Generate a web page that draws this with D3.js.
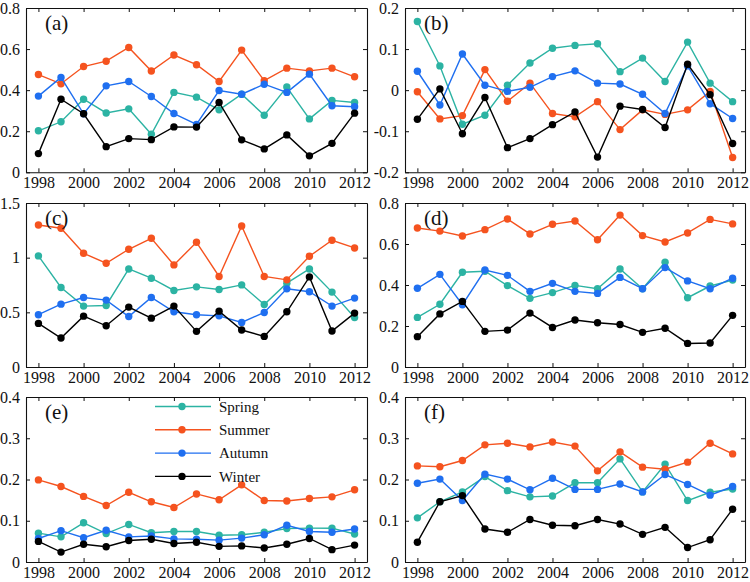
<!DOCTYPE html>
<html>
<head>
<meta charset="utf-8">
<script src="https://cdn.jsdelivr.net/npm/d3@7"></script>
<style>
  html, body { margin: 0; padding: 0; background: #fff; }
  svg { display: block; }
</style>
</head>
<body>
<svg id="chart" width="750" height="582"></svg>
<script>
// ---------------- data ----------------
const years = [1998, 1999, 2000, 2001, 2002, 2003, 2004, 2005, 2006, 2007, 2008, 2009, 2010, 2011, 2012];
const xTicks = [1998, 2000, 2002, 2004, 2006, 2008, 2010, 2012];
const seasons = ["Spring", "Summer", "Autumn", "Winter"];
const panelLabels = ["(a)", "(b)", "(c)", "(d)", "(e)", "(f)"];

const yTicksA = [0, 0.2, 0.4, 0.6, 0.8];
const yTicksB = [-0.2, -0.1, 0, 0.1, 0.2];
const yTicksC = [0, 0.5, 1, 1.5];
const yTicksD = [0, 0.2, 0.4, 0.6, 0.8];
const yTicksE = [0, 0.1, 0.2, 0.3, 0.4];
const yTicksF = [0, 0.1, 0.2, 0.3, 0.4];

// (a)
const springA = [0.202, 0.246, 0.356, 0.289, 0.309, 0.185, 0.389, 0.366, 0.304, 0.380, 0.278, 0.415, 0.260, 0.350, 0.340];
const summerA = [0.476, 0.431, 0.515, 0.541, 0.608, 0.493, 0.571, 0.524, 0.442, 0.595, 0.446, 0.507, 0.494, 0.507, 0.465];
const autumnA = [0.371, 0.462, 0.285, 0.421, 0.442, 0.369, 0.286, 0.233, 0.398, 0.380, 0.429, 0.389, 0.478, 0.324, 0.319];
const winterA = [0.091, 0.356, 0.285, 0.125, 0.164, 0.159, 0.221, 0.220, 0.340, 0.158, 0.114, 0.182, 0.080, 0.141, 0.288];
// (b)
const springB = [0.167, 0.059, -0.083, -0.061, 0.012, 0.066, 0.102, 0.109, 0.113, 0.045, 0.078, 0.021, 0.117, 0.017, -0.028];
const summerB = [-0.004, -0.070, -0.062, 0.050, -0.027, 0.017, -0.057, -0.065, -0.028, -0.096, -0.048, -0.059, -0.048, -0.003, -0.164];
const autumnB = [0.046, -0.036, 0.088, 0.012, -0.003, 0.007, 0.033, 0.047, 0.017, 0.015, -0.010, -0.057, 0.059, -0.033, -0.069];
const winterB = [-0.071, 0.003, -0.106, -0.018, -0.140, -0.118, -0.084, -0.053, -0.163, -0.039, -0.047, -0.091, 0.063, -0.011, -0.130];
// (c)
const springC = [1.016, 0.727, 0.557, 0.563, 0.897, 0.812, 0.700, 0.733, 0.709, 0.751, 0.572, 0.767, 0.897, 0.685, 0.453];
const summerC = [1.299, 1.269, 1.040, 0.949, 1.077, 1.177, 0.934, 1.141, 0.828, 1.290, 0.828, 0.797, 1.013, 1.159, 1.089];
const autumnC = [0.478, 0.575, 0.636, 0.612, 0.462, 0.636, 0.505, 0.478, 0.468, 0.408, 0.499, 0.715, 0.688, 0.557, 0.630];
const winterC = [0.399, 0.265, 0.465, 0.377, 0.548, 0.447, 0.557, 0.326, 0.511, 0.338, 0.280, 0.505, 0.824, 0.329, 0.493];
// (d)
const springD = [0.242, 0.306, 0.462, 0.467, 0.397, 0.335, 0.363, 0.398, 0.382, 0.478, 0.382, 0.511, 0.338, 0.395, 0.424];
const summerD = [0.678, 0.663, 0.639, 0.670, 0.722, 0.649, 0.696, 0.712, 0.621, 0.741, 0.641, 0.610, 0.654, 0.720, 0.698];
const autumnD = [0.384, 0.452, 0.304, 0.473, 0.447, 0.369, 0.408, 0.369, 0.359, 0.437, 0.382, 0.485, 0.420, 0.382, 0.433];
const winterD = [0.148, 0.259, 0.320, 0.174, 0.180, 0.263, 0.193, 0.229, 0.216, 0.207, 0.169, 0.189, 0.115, 0.117, 0.252];
// (e)
const springE = [0.070, 0.061, 0.095, 0.069, 0.091, 0.071, 0.074, 0.074, 0.065, 0.066, 0.072, 0.081, 0.082, 0.082, 0.068];
const summerE = [0.199, 0.183, 0.159, 0.137, 0.169, 0.146, 0.132, 0.165, 0.151, 0.187, 0.149, 0.148, 0.154, 0.158, 0.175];
const autumnE = [0.057, 0.076, 0.059, 0.077, 0.061, 0.063, 0.056, 0.055, 0.053, 0.058, 0.066, 0.089, 0.074, 0.072, 0.080];
const winterE = [0.050, 0.024, 0.043, 0.037, 0.052, 0.055, 0.045, 0.048, 0.038, 0.039, 0.034, 0.043, 0.057, 0.030, 0.041];
// (f)
const springF = [0.107, 0.146, 0.170, 0.207, 0.173, 0.158, 0.160, 0.192, 0.192, 0.250, 0.170, 0.237, 0.149, 0.169, 0.177];
const summerF = [0.233, 0.231, 0.246, 0.284, 0.288, 0.279, 0.291, 0.281, 0.221, 0.267, 0.230, 0.225, 0.242, 0.288, 0.262];
const autumnF = [0.191, 0.201, 0.149, 0.213, 0.201, 0.175, 0.203, 0.176, 0.176, 0.189, 0.170, 0.212, 0.188, 0.162, 0.183];
const winterF = [0.048, 0.146, 0.161, 0.080, 0.072, 0.103, 0.089, 0.088, 0.103, 0.092, 0.067, 0.084, 0.035, 0.054, 0.128];

const panelSeries = [
  [springA, summerA, autumnA, winterA],
  [springB, summerB, autumnB, winterB],
  [springC, summerC, autumnC, winterC],
  [springD, summerD, autumnD, winterD],
  [springE, summerE, autumnE, winterE],
  [springF, summerF, autumnF, winterF]
];
const panelTicks = [yTicksA, yTicksB, yTicksC, yTicksD, yTicksE, yTicksF];

// ---------------- styles / layout ----------------
const colors = ["#2cb3a3", "#f5531f", "#1f6ff0", "#000000"];
const cols = [{ left: 26, right: 367 }, { left: 405, right: 745 }];
const rows = [{ top: 8, bottom: 172.3 }, { top: 203, bottom: 367 }, { top: 397, bottom: 562 }];
const legendPanel = 4;
const FONT = "Liberation Serif, Times New Roman, serif";

const svg = d3.select("#chart");
const fmt = v => d3.format("~g")(v).replace("\u2212", "-");

panelSeries.forEach((series, i) => {
  const c = cols[i % 2], r = rows[Math.floor(i / 2)];
  const ticks = panelTicks[i];
  const x = d3.scaleLinear().domain([1997.45, 2012.55]).range([c.left, c.right]);
  const y = d3.scaleLinear().domain([ticks[0], ticks[ticks.length - 1]]).range([r.bottom, r.top]);
  const g = svg.append("g");

  // axes (inner ticks on all four sides)
  const styleAxis = sel => {
    sel.attr("font-family", FONT).attr("font-size", 16);
    sel.selectAll("path.domain").attr("stroke", "#111").attr("stroke-width", 1.1);
    sel.selectAll(".tick line").attr("stroke", "#111").attr("stroke-width", 1);
    sel.selectAll(".tick text").attr("fill", "#111");
  };
  g.append("g").attr("transform", `translate(0,${r.bottom})`)
    .call(d3.axisBottom(x).tickValues(xTicks).tickFormat(d3.format("d")).tickSize(-4).tickSizeOuter(0).tickPadding(4.5))
    .call(styleAxis);
  g.append("g").attr("transform", `translate(0,${r.top})`)
    .call(d3.axisTop(x).tickValues(xTicks).tickFormat("").tickSize(-4).tickSizeOuter(0))
    .call(styleAxis);
  g.append("g").attr("transform", `translate(${c.left},0)`)
    .call(d3.axisLeft(y).tickValues(ticks).tickFormat(fmt).tickSize(-4).tickSizeOuter(0).tickPadding(6))
    .call(styleAxis);
  g.append("g").attr("transform", `translate(${c.right},0)`)
    .call(d3.axisRight(y).tickValues(ticks).tickFormat("").tickSize(-4).tickSizeOuter(0))
    .call(styleAxis);

  // series
  const line = d3.line().x((d, k) => x(years[k])).y(d => y(d));
  series.forEach((vals, s) => {
    const sg = g.append("g");
    sg.append("path").datum(vals).attr("d", line)
      .attr("fill", "none").attr("stroke", colors[s]).attr("stroke-width", 1.4);
    sg.selectAll("circle").data(vals).join("circle")
      .attr("cx", (d, k) => x(years[k])).attr("cy", d => y(d)).attr("r", 3.7)
      .attr("fill", colors[s]);
  });

  // panel label
  g.append("text").attr("x", c.left + 19).attr("y", r.top + 22)
    .attr("font-family", FONT).attr("font-size", 21).attr("fill", "#111")
    .text(panelLabels[i]);

  // legend
  if (i === legendPanel) {
    const lg = g.append("g").attr("transform", `translate(${c.left + 129},${r.top + 9.5})`);
    seasons.forEach((name, s) => {
      const row = lg.append("g").attr("transform", `translate(0,${s * 23.3})`);
      row.append("line").attr("x1", 0).attr("x2", 56).attr("y1", 0).attr("y2", 0)
        .attr("stroke", colors[s]).attr("stroke-width", 1.4);
      row.append("circle").attr("cx", 27).attr("cy", 0).attr("r", 3.7).attr("fill", colors[s]);
      row.append("text").attr("x", 64).attr("y", 0).attr("dy", "0.35em")
        .attr("font-family", FONT).attr("font-size", 15).attr("fill", "#111")
        .text(name);
    });
  }
});
</script>
</body>
</html>
